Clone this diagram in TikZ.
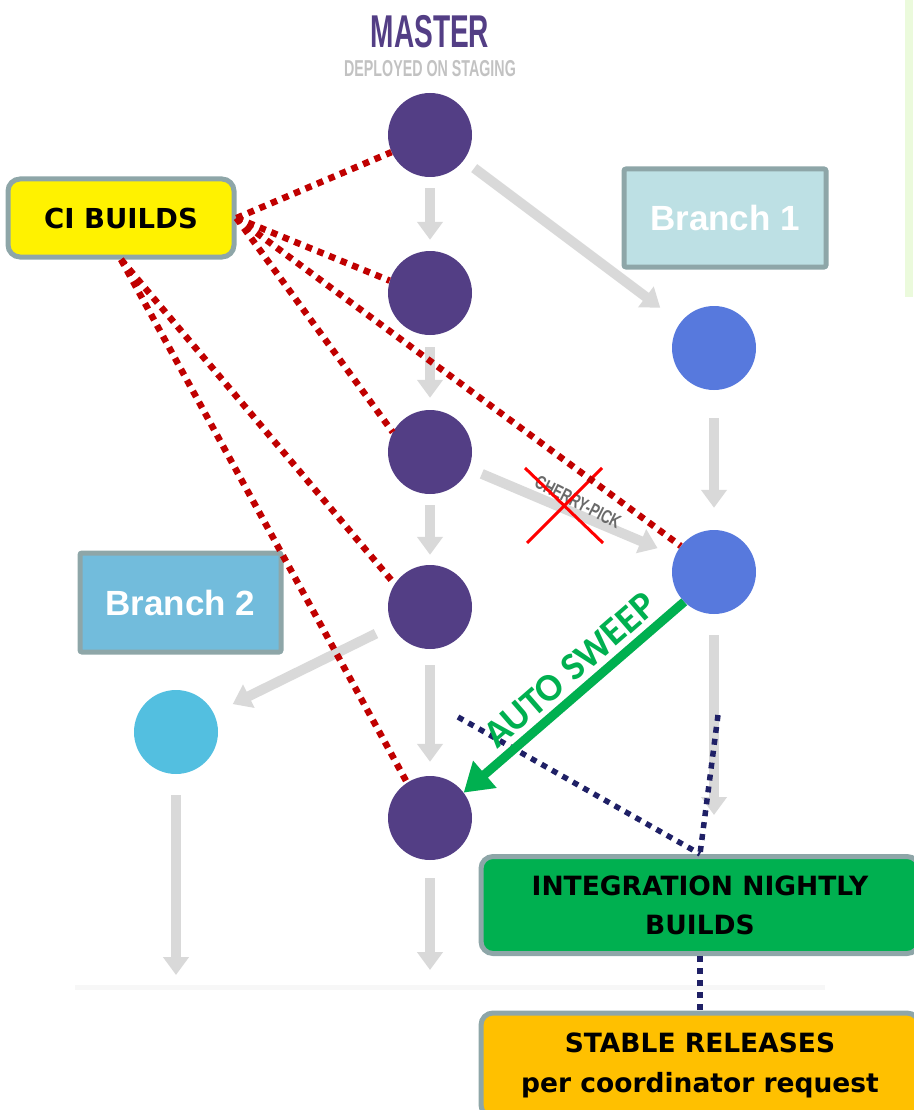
\documentclass[tikz,border=0pt]{standalone}
\usepackage{fontspec}
\setmainfont{Liberation Sans}
\newfontfamily\comicf{DejaVu Sans}
\newfontfamily\carlf{Carlito}
\usetikzlibrary{arrows.meta}
\definecolor{mpurple}{HTML}{533E85}
\definecolor{bblue}{HTML}{5779DD}
\definecolor{lblue}{HTML}{53BFE0}
\definecolor{agray}{HTML}{D9D9D9}
\definecolor{dred}{HTML}{C00000}
\definecolor{navy}{HTML}{1F2066}
\definecolor{bgray}{HTML}{8EA6A8}
\definecolor{gsweep}{HTML}{00B050}
\definecolor{b1fill}{HTML}{BDE0E4}
\definecolor{b2fill}{HTML}{72BCDC}
\definecolor{ofill}{HTML}{FFC000}
\definecolor{panel}{HTML}{EBFADC}
\definecolor{subgray}{HTML}{C2C2C2}
\definecolor{cpgray}{HTML}{6A6A6A}
\tikzset{
  commit/.style={circle, minimum size=84pt, inner sep=0pt},
  garrow/.style={draw=agray, line width=10pt, -{Triangle[width=25pt,length=18pt]}},
  reddots/.style={draw=dred, line width=6.5pt, dash pattern=on 6.5pt off 6pt},
  navydots/.style={draw=navy, line width=5.5pt, dash pattern=on 6pt off 6pt},
  rbox/.style={draw=bgray, line width=5pt, rounded corners=12pt, inner sep=0pt, align=center, text=black},
  branchbox/.style={draw=bgray, line width=5pt, rounded corners=2pt, inner sep=0pt, text=white, font=\fontsize{35}{40}\selectfont\bfseries},
}
\begin{document}
\begin{tikzpicture}[x=1pt,y=-1pt]
\useasboundingbox (0,0) rectangle (913,1110);
% right panel and base line
\fill[panel] (905,0) rectangle (913,297);
\draw[draw=black!3, line width=5pt] (75,987) -- (825,987);
% titles
\node (master) at (430,32) {\scalebox{0.61}[1]{\fontsize{46}{50}\selectfont\bfseries\color{mpurple}MASTER}};
\node (deployed) at (430,69) {\scalebox{0.62}[1]{\fontsize{23}{26}\selectfont\bfseries\color{subgray}DEPLOYED ON STAGING}};
% commits
\node[commit, fill=mpurple] (m1) at (430,135) {};
\node[commit, fill=mpurple] (m2) at (430,293) {};
\node[commit, fill=mpurple] (m3) at (430,452) {};
\node[commit, fill=mpurple] (m4) at (430,607) {};
\node[commit, fill=mpurple] (m5) at (430,818) {};
\node[commit, fill=bblue] (b1a) at (714,348) {};
\node[commit, fill=bblue] (b1b) at (714,572) {};
\node[commit, fill=lblue] (b2) at (176,732) {};
\coordinate (m5end) at (430,970);
\coordinate (b1end) at (714,815);
\coordinate (b2end) at (176,975);
% grey arrows
\draw[garrow, shorten <=11pt, shorten >=11pt] (m1) -- (m2);
\draw[garrow, shorten <=12pt, shorten >=12pt] (m2) -- (m3);
\draw[garrow, shorten <=11pt, shorten >=10pt] (m3) -- (m4);
\draw[garrow, shorten <=16pt, shorten >=14pt] (m4) -- (m5);
\draw[garrow, shorten <=18pt] (m5) -- (m5end);
\draw[garrow, shorten <=13pt, shorten >=25pt] (m1) -- (b1a);
\draw[garrow, shorten <=28pt, shorten >=22pt] (b1a) -- (b1b);
\draw[garrow, shorten <=21pt] (b1b) -- (b1end);
\draw[garrow, shorten <=14pt, shorten >=19pt] (m3) -- (b1b);
\draw[garrow, shorten <=18pt, shorten >=21pt] (m4) -- (b2);
\draw[garrow, shorten <=21pt] (b2) -- (b2end);
% cherry-pick label and cross
\node[rotate=-27, inner sep=0pt] (cherry) at (578,502) {\scalebox{0.72}[1]{\fontsize{19}{21}\selectfont\bfseries\color{cpgray}CHERRY-PICK}};
\draw[red, line width=3pt] (cherry.center) ++(-53,-34) -- ++(78,75);
\draw[red, line width=3pt] (cherry.center) ++(24,-34) -- ++(-75,75);
% boxes
\node[rbox, fill=yellow, minimum width=226pt, minimum height=78pt, font=\comicf\fontsize{27.5}{32}\selectfont\bfseries] (ci) at (121,218) {CI BUILDS};
\node[branchbox, fill=b1fill, minimum width=202pt, minimum height=98pt] (br1) at (725,218) {Branch 1};
\node[branchbox, fill=b2fill, minimum width=201pt, minimum height=99pt] (br2) at (180.5,602.5) {Branch 2};
\node[rbox, fill=gsweep, minimum width=438pt, minimum height=97pt, font=\comicf\fontsize{26.5}{39}\selectfont\bfseries] (int) at (700,905) {INTEGRATION NIGHTLY\\BUILDS};
\node[rbox, fill=ofill, minimum width=438pt, minimum height=104pt, font=\comicf\fontsize{26.5}{40}\selectfont\bfseries] (stable) at (700,1065) {STABLE RELEASES\\per coordinator request};
% red dotted CI lines
\draw[reddots] (ci.east) -- (m1.204);
\draw[reddots] (ci.east) -- (m2.163);
\draw[reddots] (ci.east) -- (m3.152);
\draw[reddots] (ci.east) -- (b1b.142);
\draw[reddots] (ci.south) -- (m4.147);
\draw[reddots] (ci.south) -- (m5.123);
% navy dotted lines
\coordinate (nv1) at (458,717);
\coordinate (nv2) at (718,715);
\draw[navydots] (nv1) -- (int.north);
\draw[navydots] (nv2) -- (int.north);
\draw[navydots] (int.south) -- (stable.north);
% auto sweep
\draw[draw=black!25, opacity=0.5, line width=9pt, -{Triangle[width=34pt,length=28pt]}, shift={(3pt,-3pt)}] (b1b.225) -- (m5.37);
\draw[draw=gsweep, fill=gsweep, line width=9pt, -{Triangle[width=34pt,length=28pt]}] (b1b.225) -- (m5.37);
\node[rotate=41, inner sep=0pt, text=gsweep, font=\carlf\fontsize{39}{42}\selectfont\bfseries] (sweep) at (570,670) {AUTO SWEEP};
\end{tikzpicture}
\end{document}
